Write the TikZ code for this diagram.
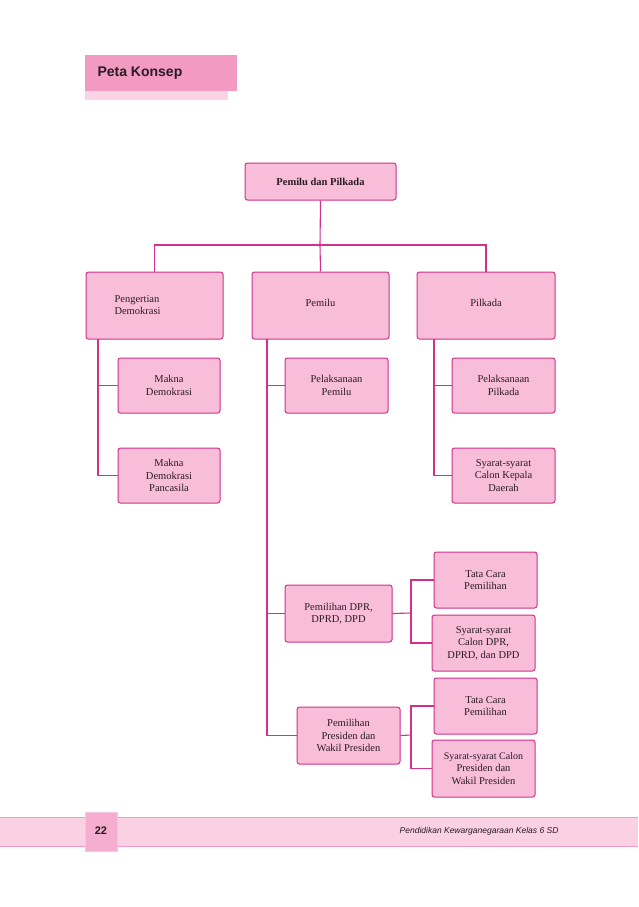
\documentclass[tikz,border=0pt]{standalone}
\usepackage{fontspec}
\setmainfont{Liberation Serif}
\newfontfamily\hsans{Liberation Sans}
\begin{document}
\definecolor{bfill}{HTML}{F8BDD9}
\definecolor{bline}{HTML}{D2308A}
\definecolor{hdr}{HTML}{F39AC3}
\definecolor{hlight}{HTML}{FAD3E5}
\definecolor{band}{HTML}{FAD0E3}
\definecolor{txt}{HTML}{2A1A22}
\begin{tikzpicture}[x=1pt,y=-1pt,
  box/.style={draw=bline,fill=bfill,rounded corners=2.5pt,line width=1pt,align=center,font=\fontsize{10.5}{12.5}\selectfont,text=txt,inner sep=0pt},
  ln/.style={draw=bline,line width=1.1pt}]
\useasboundingbox (0,0) rectangle (638,907);
% header
\fill[hlight] (85,88) rectangle (228,100);
\fill[hdr] (85,55) rectangle (237,91);
\node[anchor=west,font=\hsans\bfseries\fontsize{14}{16}\selectfont,text=txt] (title) at (94,73) {Peta Konsep};
% footer
\fill[band] (0,817) rectangle (638,846);
\draw[hdr,line width=0.8pt] (0,817) -- (638,817) (0,846) -- (638,846);
\fill[hdr!80] (85,812) rectangle (117,851);
\draw[hdr!60!bline!40,line width=0.5pt] (85,812) rectangle (117,851);
\node[font=\hsans\bfseries\fontsize{11}{13}\selectfont,text=txt] (pg) at (101,831) {22};
\node[anchor=east,font=\hsans\itshape\fontsize{8.5}{10}\selectfont,text=txt] (ft) at (562,831) {Pendidikan Kewarganegaraan Kelas 6 SD};
% nodes
\newcommand{\bx}[6]{\node[box,minimum width=#4-#2,minimum height=#5-#3] (#1) at ({(#2+#4)/2},{(#3+#5)/2}) {#6};}
\bx{root}{245}{163}{396}{200}{\bfseries Pemilu dan Pilkada}
\node[box,minimum width=137,minimum height=67,text width=120,align=left] (pd) at (154.5,305.5) {\raisebox{8pt}{\parbox{120pt}{\hspace*{20pt}Pengertian\\\hspace*{20pt}Demokrasi}}};
\bx{pm}{252}{272}{389}{339}{\raisebox{6pt}{Pemilu}}
\bx{pk}{417}{272}{555}{339}{\raisebox{6pt}{Pilkada}}
\bx{md}{118}{358}{220}{413}{Makna\\Demokrasi}
\bx{mdp}{118}{448}{220}{503}{Makna\\Demokrasi\\Pancasila}
\bx{pp}{285}{358}{388}{413}{Pelaksanaan\\Pemilu}
\bx{ppk}{452}{358}{555}{413}{Pelaksanaan\\Pilkada}
\bx{sk}{452}{448}{555}{503}{Syarat-syarat\\Calon Kepala\\Daerah}
\bx{dpr}{285}{585}{392}{642}{Pemilihan DPR,\\DPRD, DPD}
\bx{pres}{297}{707}{400}{764}{Pemilihan\\Presiden dan\\Wakil Presiden}
\bx{tc1}{434}{552}{537}{608}{Tata Cara\\Pemilihan}
\bx{sd}{432}{615}{535}{671}{Syarat-syarat\\Calon DPR,\\DPRD, dan DPD}
\bx{tc2}{434}{678}{537}{734}{Tata Cara\\Pemilihan}
\bx{sp}{432}{740}{535}{797}{\fontsize{10}{12.5}\selectfont Syarat-syarat Calon\\Presiden dan\\Wakil Presiden}
% connectors
\coordinate (j0) at (320,245);
\draw[ln] (root.south) -- (j0);
\draw[ln] (pd.north) |- (j0) -| (pk.north);
\draw[ln] (j0) -- (pm.north);
\draw[ln] (98,339) |- (md.west);
\draw[ln] (98,339) |- (mdp.west);
\draw[ln] (267,339) |- (pp.west);
\draw[ln] (267,339) |- (dpr.west);
\draw[ln] (267,339) |- (pres.west);
\draw[ln] (434,339) |- (ppk.west);
\draw[ln] (434,339) |- (sk.west);
\coordinate (k1) at (411,613);
\draw[ln] (dpr.east) -- (k1);
\draw[ln] (k1) |- (tc1.west);
\draw[ln] (k1) |- (sd.west);
\coordinate (k2) at (411,735);
\draw[ln] (pres.east) -- (k2);
\draw[ln] (k2) |- (tc2.west);
\draw[ln] (k2) |- (sp.west);
\end{tikzpicture}
\end{document}
